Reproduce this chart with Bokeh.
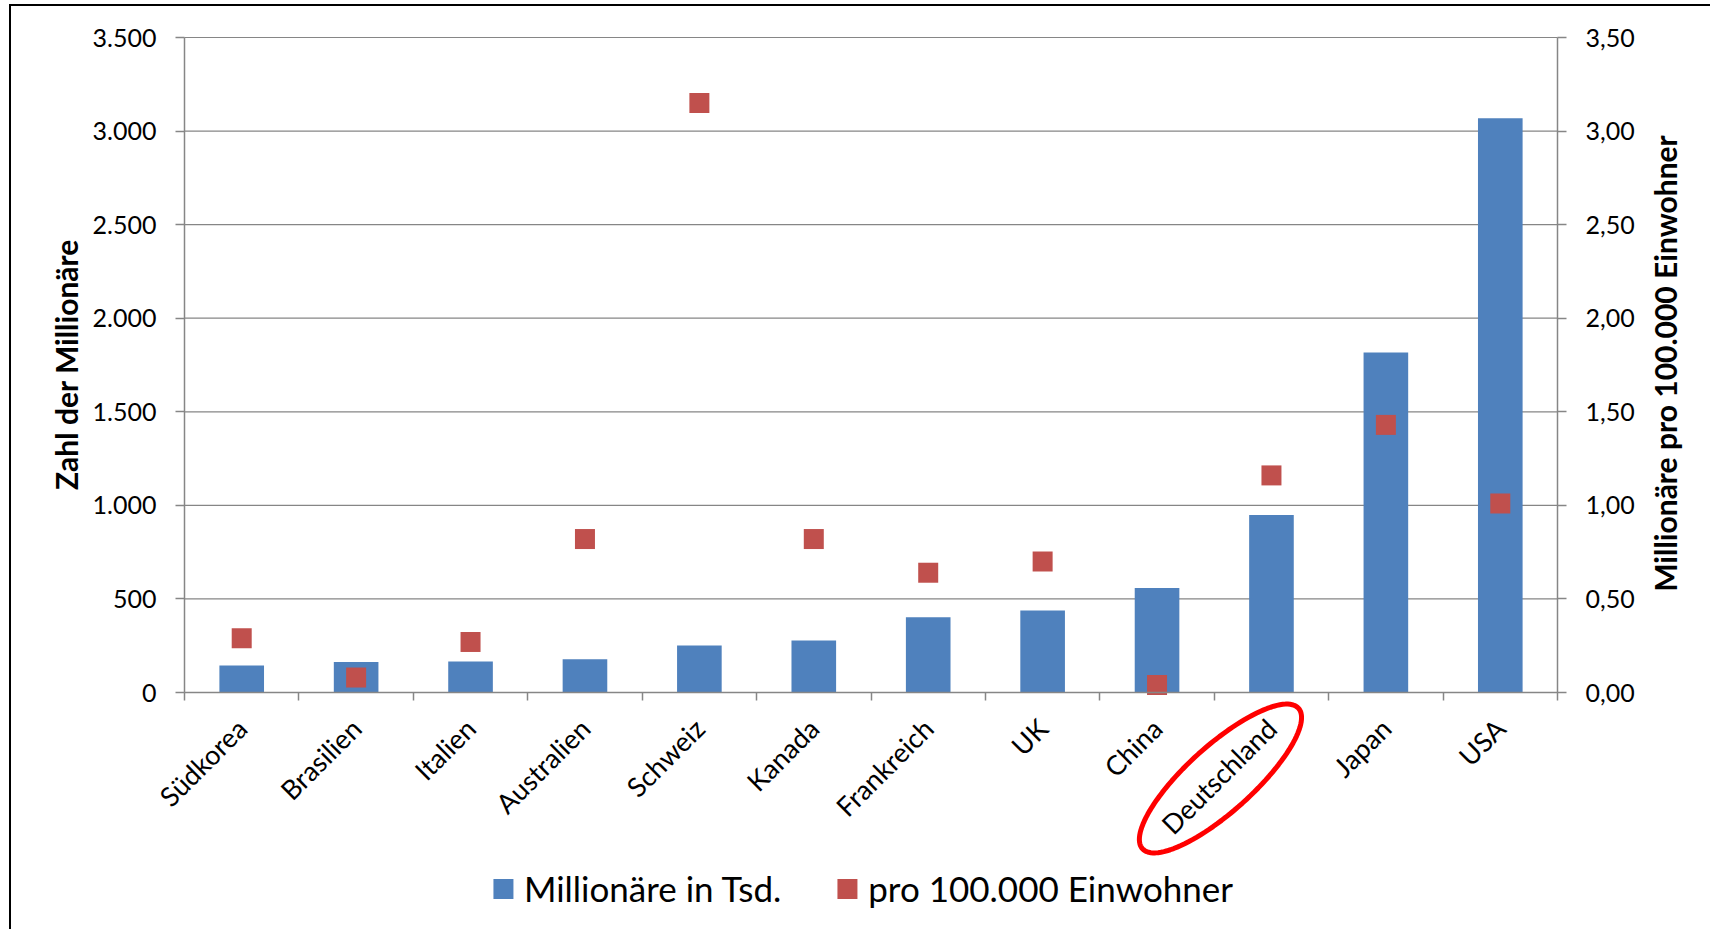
import math
from bokeh.plotting import figure
from bokeh.models import (Range1d, LinearAxis, FixedTicker, CustomJSTickFormatter, Legend,
                          LegendItem, ColumnDataSource, PolyAnnotation, Label)
from bokeh.embed import file_html
from bokeh.resources import INLINE

# ---------------- data ----------------
categories = ["Südkorea", "Brasilien", "Italien", "Australien", "Schweiz", "Kanada",
              "Frankreich", "UK", "China", "Deutschland", "Japan", "USA"]
millionaires_k = [144, 163, 166, 178, 251, 278, 402, 438, 559, 949, 1817, 3068]
per_100k = [0.29, 0.08, 0.27, 0.82, 3.15, 0.82, 0.64, 0.70, 0.04, 1.16, 1.43, 1.01]
left_ticks = [0, 500, 1000, 1500, 2000, 2500, 3000, 3500]
right_ticks = [0.0, 0.5, 1.0, 1.5, 2.0, 2.5, 3.0, 3.5]
series_names = ["Millionäre in Tsd.", "pro 100.000 Einwohner"]
left_title = "Zahl der Millionäre"
right_title = "Millionäre pro 100.000 Einwohner"
highlight = "Deutschland"

# ---------------- style / layout ----------------
BLUE = "#4F81BD"
RED = "#C0504D"
GRAY = "#868686"
FONT = "Lato"

W, H = 1701, 925                 # canvas size
PL, PR, PT, PB = 173, 1546, 31, 686   # canvas pixels of the plotting area (axes box)

n = len(categories)
centers = [i + 0.5 for i in range(n)]          # category slot centres on the axis scale
boundaries = list(range(n + 1))                  # slot boundaries (tick marks)

ytop = left_ticks[-1]
rtop = right_ticks[-1]
px_x = (PR - PL) / n              # pixels per category slot
px_y = (PB - PT) / ytop           # pixels per left-axis unit
x0 = -PL / px_x
x1 = n + (W - PR) / px_x
y1 = ytop + PT / px_y
y0 = -(H - PB) / px_y
rs = rtop / ytop

def sx(px):  # canvas x pixel -> x data
    return x0 + px / px_x

def sy(py):  # canvas y pixel -> left y data
    return y1 - py / px_y

p = figure(width=W, height=H, x_range=Range1d(x0, x1), y_range=Range1d(y0, y1),
           output_backend="svg", toolbar_location=None, min_border=0)
p.styles = {"border-left": "2px solid #000", "border-top": "2px solid #000",
            "margin-top": "4px", "margin-left": "9px"}
p.extra_y_ranges = {"right": Range1d(y0 * rs, y1 * rs)}
p.outline_line_color = None
p.background_fill_color = "white"
p.border_fill_color = "white"
p.xgrid.visible = False
p.ygrid.visible = False

# horizontal grid lines between the two value axes
p.segment(x0=[0] * len(left_ticks), x1=[n] * len(left_ticks), y0=left_ticks, y1=left_ticks,
          line_color=GRAY, line_width=1.2)

src = ColumnDataSource(dict(x=centers, cat=categories, m=millionaires_k, r=per_100k))
bars = p.vbar(x="x", top="m", width=0.39, source=src, fill_color=BLUE, line_color=None)
p.scatter(x="x", y="r", marker="square", size=20, source=src, fill_color=RED,
          line_color=None, y_range_name="right")
legend_red = p.vbar(x="x", top="r", width=0.39, source=src, fill_color=RED, line_color=None,
                    y_range_name="right", visible=False)

# left axis
ya = p.yaxis[0]
ya.ticker = FixedTicker(ticks=left_ticks)
ya.formatter = CustomJSTickFormatter(code="""
const s = Math.round(tick).toString();
return s.replace(/\\B(?=(\\d{3})+(?!\\d))/g, ".");
""")
ya.fixed_location = 0
ya.bounds = (0, ytop)

# right axis
ra = LinearAxis(y_range_name="right", ticker=FixedTicker(ticks=right_ticks),
                formatter=CustomJSTickFormatter(code="return tick.toFixed(2).replace('.', ',');"))
ra.fixed_location = n
ra.bounds = (0, rtop)
p.add_layout(ra, "right")

for ax in (ya, ra):
    ax.axis_line_color = GRAY
    ax.axis_line_width = 1.5
    ax.major_tick_line_color = GRAY
    ax.major_tick_line_width = 1.5
    ax.major_tick_in = 0
    ax.major_tick_out = 9
    ax.minor_tick_line_color = None
    ax.major_label_text_font = FONT
    ax.major_label_text_font_size = "25px"
    ax.major_label_text_color = "#000000"
    ax.major_label_standoff = 19

# category axis: labels at slot centres, tick marks at slot boundaries
xa = p.xaxis[0]
xa.ticker = FixedTicker(ticks=centers, minor_ticks=boundaries)
xa.major_label_overrides = {c: name for c, name in zip(centers, categories)}
xa.fixed_location = 0
xa.bounds = (0, n)
xa.axis_line_color = GRAY
xa.axis_line_width = 1.5
xa.major_tick_line_color = None
xa.major_tick_in = 0
xa.major_tick_out = 0
xa.minor_tick_line_color = GRAY
xa.minor_tick_line_width = 1.5
xa.minor_tick_in = 0
xa.minor_tick_out = 8
xa.major_label_orientation = math.pi / 4
xa.major_label_text_font = FONT
xa.major_label_text_font_size = "27px"
xa.major_label_text_color = "#000000"
xa.major_label_standoff = 23

# axis titles
p.add_layout(Label(x=sx(54), y=sy(358), text=left_title, angle=math.pi / 2,
                   text_align="center", text_baseline="middle", text_font=FONT,
                   text_font_style="bold", text_font_size="30px", text_color="#000000"))
p.add_layout(Label(x=sx(1653), y=sy(357), text=right_title, angle=math.pi / 2,
                   text_align="center", text_baseline="middle", text_font=FONT,
                   text_font_style="bold", text_font_size="30px", text_color="#000000"))

# legend
legend = Legend(items=[LegendItem(label=series_names[0], renderers=[bars]),
                       LegendItem(label=series_names[1], renderers=[legend_red])],
                orientation="horizontal", location="bottom_center",
                glyph_width=25, glyph_height=25, label_standoff=9, spacing=53,
                label_text_font=FONT, label_text_font_size="35px", label_text_color="#000000",
                border_line_color=None, background_fill_alpha=0, padding=0, margin=22)
p.add_layout(legend)

# hand-drawn ellipse around the highlighted category label
cx_off, cy_off = -51, 86
a_ax, b_ax, th = 105, 33, math.radians(42)
ci = centers[categories.index(highlight)]
exs, eys = [], []
for k in range(121):
    t = 2 * math.pi * k / 120
    dx = cx_off + a_ax * math.cos(th) * math.cos(t) - b_ax * math.sin(th) * math.sin(t)
    dy = -cy_off + a_ax * math.sin(th) * math.cos(t) + b_ax * math.cos(th) * math.sin(t)
    exs.append(ci + dx / px_x)
    eys.append(dy / px_y)
p.add_layout(PolyAnnotation(xs=exs, ys=eys, fill_alpha=0, line_color="#FF0000",
                            line_alpha=1.0, line_width=5))

open("out.html", "w").write(file_html(p, INLINE))
